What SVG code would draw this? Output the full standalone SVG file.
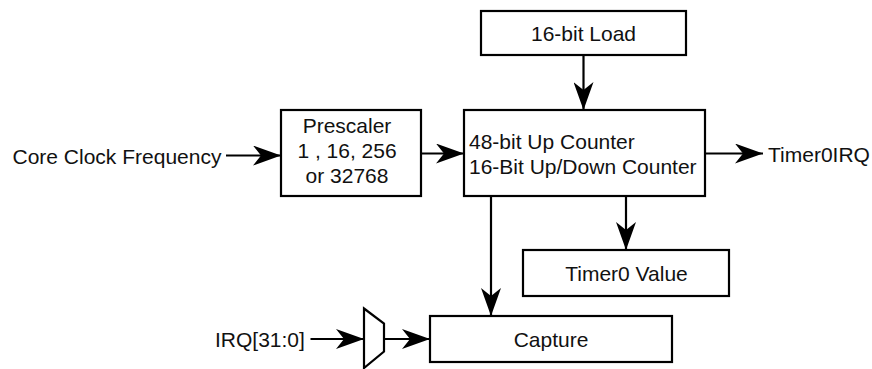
<svg xmlns="http://www.w3.org/2000/svg" width="872" height="369" viewBox="0 0 872 369">
<style>
.box{fill:#fff;stroke:#000;stroke-width:2.2}
.t{font-family:"Liberation Sans",Arial,sans-serif;font-size:21px;fill:#111}
.c{text-anchor:middle}
.ln{stroke:#000;stroke-width:2.2;fill:none;marker-end:url(#ah)}
</style>
<defs>
<marker id="ah" markerUnits="userSpaceOnUse" markerWidth="28" markerHeight="20" refX="28" refY="10" orient="auto" viewBox="0 0 28 20">
<path d="M0,0 L28,10 L0,20 L8,10 Z" fill="#000"/>
</marker>
</defs>
<rect width="872" height="369" fill="#fff"/>
<g id="connectors">
<line class="ln" x1="226" y1="155.5" x2="281" y2="155.5"/>
<line class="ln" x1="421" y1="153.5" x2="464" y2="153.5"/>
<line class="ln" x1="583.5" y1="55" x2="583.5" y2="110"/>
<line class="ln" x1="705" y1="153.5" x2="763" y2="153.5"/>
<line class="ln" x1="626" y1="196" x2="626" y2="250"/>
<line class="ln" x1="491" y1="196" x2="491" y2="316"/>
<line class="ln" x1="310.5" y1="339" x2="364" y2="339"/>
<line class="ln" x1="384" y1="339" x2="430" y2="339"/>
</g>
<g id="clock-label"><text class="t" x="12.5" y="163.5">Core Clock Frequency</text></g>
<g id="load"><rect class="box" x="481" y="11" width="205" height="44"/><text class="t c" x="583.5" y="40.5">16-bit Load</text></g>
<g id="prescaler"><rect class="box" x="281" y="110" width="140" height="86"/>
<text class="t c" x="347" y="133">Prescaler</text>
<text class="t c" x="347" y="158">1 , 16, 256</text>
<text class="t c" x="347" y="183">or 32768</text></g>
<g id="counter"><rect class="box" x="464" y="110" width="241" height="86"/>
<text class="t" x="469" y="148.5">48-bit Up Counter</text>
<text class="t" x="469" y="173.5">16-Bit Up/Down Counter</text></g>
<g id="irq-out"><text class="t" x="768" y="161.5">Timer0IRQ</text></g>
<g id="value"><rect class="box" x="523" y="250" width="206" height="46"/><text class="t c" x="626.5" y="280.5">Timer0 Value</text></g>
<g id="irq-in"><text class="t" x="215" y="347">IRQ[31:0]</text></g>
<g id="mux"><polygon class="box" points="364,308.5 384,323.5 384,351.5 364,368"/></g>
<g id="capture"><rect class="box" x="430" y="316" width="242" height="46"/><text class="t c" x="551" y="346.5">Capture</text></g>
</svg>
